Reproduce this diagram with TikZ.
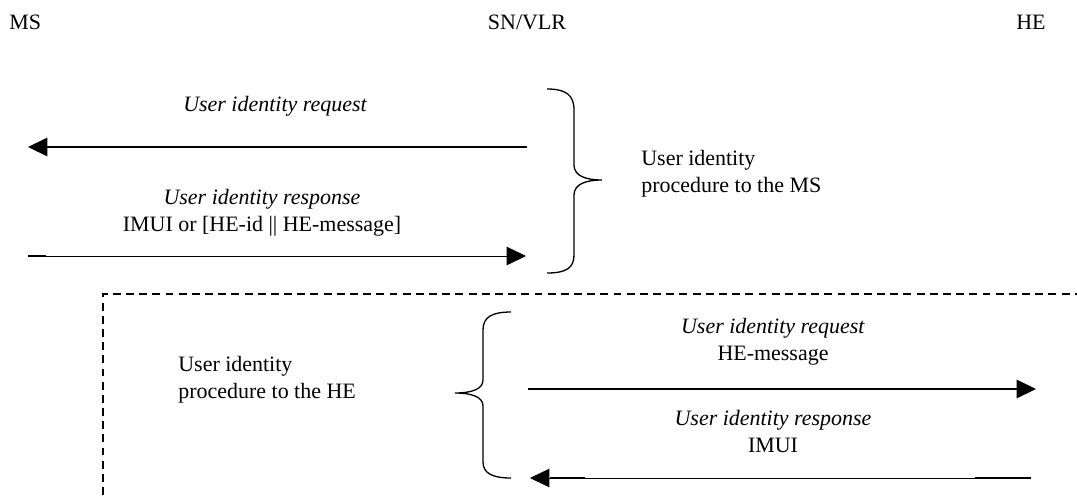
\documentclass[tikz,border=0pt]{standalone}
\usepackage{fontspec}
\setmainfont{Liberation Serif}
\usetikzlibrary{arrows.meta, positioning}

\begin{document}
\begin{tikzpicture}[x=0.02cm, y=-0.02cm,
			every node/.style={inner sep=0pt, anchor=base, font=\fontsize{12.5}{15.6}\selectfont},
			lbl/.style={anchor=base west},
			msg/.style={-{Triangle[length=11pt,width=10.5pt]}, line width=0.55pt},
			brace/.style={line width=0.75pt},
			tick/.style={line width=1.3pt},
			envBox/.style={dash pattern=on 4.5pt off 3pt, line width=0.6pt}
		]
		\useasboundingbox (0,0) rectangle (1077,495);
		% entities
		\node (ms) [lbl] at (9,29) {MS};
		\node (snvlr) at (527,29) {SN/VLR};
		\node (he) [anchor=base east] at (1046,29) {HE};
		% procedure to the MS
		\coordinate (reqMsStart) at (527,147);
		\coordinate (reqMsEnd) at (28,147);
		\coordinate (respMsStart) at (28,256);
		\coordinate (respMsEnd) at (526,256);
		\node (reqMs) at (275,111) {\itshape User identity request};
		\node (respMs) at (262,204) {\begin{tabular}[t]{@{}c@{}}\textit{User identity response}\\IMUI or [HE-id || HE-message]\end{tabular}};
		\draw [msg, line width=0.9pt] (reqMsStart) -- (reqMsEnd);
		\draw [msg] (respMsStart) -- (respMsEnd);
		\draw [tick] (respMsStart) -- ++(18,0);
		\draw [brace] (547,89) .. controls (566,89) and (574,95) .. (574,110) -- (574,165)
			.. controls (574,176) and (586,180) .. (602,180)
			.. controls (586,180) and (574,184) .. (574,195) -- (574,255)
			.. controls (574,268) and (566,273) .. (547,273);
		\node (procMs) [lbl] at (641,165) {\begin{tabular}[t]{@{}l@{}}User identity\\procedure to the MS\end{tabular}};
		% procedure to the HE
		\draw [envBox] (103,495) -- (103,294) -- (1077,294);
		\node (procHe) [lbl] at (178,371) {\begin{tabular}[t]{@{}l@{}}User identity\\procedure to the HE\end{tabular}};
		\draw [brace] (511,312) .. controls (492,312) and (483,317) .. (483,330) -- (483,380)
			.. controls (483,389) and (472,393) .. (455,393)
			.. controls (472,393) and (483,397) .. (483,406) -- (483,462)
			.. controls (483,473) and (492,478) .. (511,478);
		\coordinate (reqHeStart) at (528,389);
		\coordinate (reqHeEnd) at (1036,389);
		\coordinate (respHeStart) at (1031,478);
		\coordinate (respHeEnd) at (530,478);
		\node (reqHe) at (773,333) {\begin{tabular}[t]{@{}c@{}}\textit{User identity request}\\HE-message\end{tabular}};
		\node (respHe) at (773,425) {\begin{tabular}[t]{@{}c@{}}\textit{User identity response}\\IMUI\end{tabular}};
		\draw [msg, line width=0.8pt] (reqHeStart) -- (reqHeEnd);
		\draw [msg] (respHeStart) -- (respHeEnd);
		\draw [tick] (respHeStart) -- ++(-56,0);
		\draw [tick] (respHeEnd) ++(20,0) -- ++(35,0);
	\end{tikzpicture}
\end{document}
